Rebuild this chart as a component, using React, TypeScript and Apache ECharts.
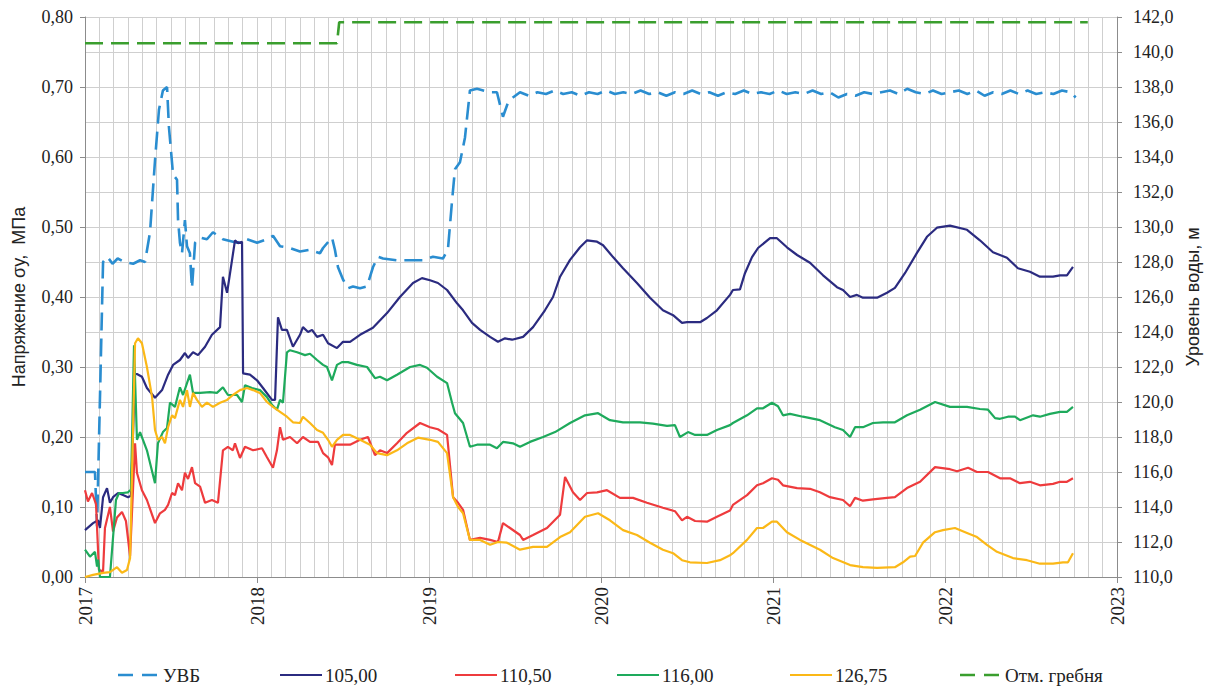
import React, { useEffect, useRef } from "react";
import * as echarts from "echarts";

const YEAR0 = 2017;
const X_TICKS = [2017, 2018, 2019, 2020, 2021, 2022, 2023];

// Offsets in years from 2017.0, values
const UVB: [number, number][] = [
  [0.0, 116.0], [0.058, 116.0], [0.07, 112.9], [0.105, 128.0], [0.13, 128.3], [0.16, 127.9],
  [0.19, 128.2], [0.23, 128.0], [0.28, 127.9], [0.32, 128.1], [0.349, 128.0], [0.378, 129.7],
  [0.407, 133.8], [0.43, 136.7], [0.453, 137.8], [0.477, 138.0], [0.488, 135.7], [0.512, 133.0],
  [0.535, 132.7], [0.541, 130.4], [0.552, 129.1], [0.564, 128.5], [0.581, 130.4], [0.593, 128.9],
  [0.61, 128.5], [0.622, 126.5], [0.64, 129.1], [0.669, 129.4], [0.709, 129.3], [0.744, 129.7],
  [0.802, 129.3], [0.884, 129.1], [0.942, 129.3], [1.0, 129.1], [1.058, 129.3], [1.093, 129.5],
  [1.134, 128.9], [1.192, 128.8], [1.25, 128.6], [1.308, 128.7], [1.366, 128.5], [1.384, 128.8],
  [1.436, 129.4], [1.453, 128.7], [1.471, 127.7], [1.5, 127.0], [1.529, 126.5], [1.558, 126.6],
  [1.599, 126.5], [1.64, 126.6], [1.674, 127.7], [1.703, 128.3], [1.733, 128.2], [1.814, 128.1],
  [1.89, 128.1], [1.965, 128.1], [2.023, 128.3], [2.081, 128.2], [2.11, 128.7], [2.134, 131.5],
  [2.151, 133.3], [2.18, 133.7], [2.209, 135.1], [2.238, 137.8], [2.279, 137.9], [2.355, 137.7],
  [2.395, 137.7], [2.43, 136.3], [2.459, 137.1], [2.488, 137.4], [2.529, 137.7], [2.58, 137.5],
  [2.63, 137.7], [2.68, 137.6], [2.73, 137.8], [2.78, 137.6], [2.83, 137.7], [2.88, 137.5],
  [2.93, 137.7], [2.98, 137.6], [3.03, 137.8], [3.08, 137.6], [3.13, 137.7], [3.18, 137.6],
  [3.23, 137.8], [3.28, 137.6], [3.33, 137.7], [3.38, 137.5], [3.43, 137.7], [3.48, 137.6],
  [3.53, 137.8], [3.58, 137.6], [3.63, 137.7], [3.68, 137.5], [3.73, 137.7], [3.78, 137.6],
  [3.83, 137.8], [3.88, 137.6], [3.93, 137.7], [3.98, 137.6], [4.03, 137.8], [4.08, 137.6],
  [4.13, 137.7], [4.18, 137.6], [4.23, 137.8], [4.28, 137.6], [4.33, 137.7], [4.38, 137.4],
  [4.43, 137.6], [4.48, 137.5], [4.53, 137.7], [4.58, 137.6], [4.63, 137.7], [4.68, 137.8],
  [4.73, 137.6], [4.78, 137.9], [4.83, 137.7], [4.88, 137.6], [4.93, 137.8], [4.98, 137.6],
  [5.03, 137.7], [5.08, 137.8], [5.13, 137.6], [5.18, 137.8], [5.23, 137.5], [5.28, 137.7],
  [5.33, 137.6], [5.38, 137.8], [5.43, 137.6], [5.48, 137.8], [5.53, 137.6], [5.58, 137.7],
  [5.63, 137.6], [5.68, 137.8], [5.73, 137.7], [5.76, 137.4],
];

const CREST: [number, number][] = [
  [0.0, 140.5], [1.465, 140.5], [1.478, 141.7], [5.83, 141.7],
];

const S105: [number, number][] = [
  [0.0, 0.067], [0.047, 0.077], [0.076, 0.081], [0.087, 0.07], [0.105, 0.114], [0.128, 0.127],
  [0.145, 0.106], [0.163, 0.114], [0.192, 0.12], [0.221, 0.117], [0.25, 0.114], [0.267, 0.116],
  [0.291, 0.29], [0.302, 0.29], [0.331, 0.286], [0.36, 0.27], [0.407, 0.256], [0.448, 0.267],
  [0.483, 0.289], [0.512, 0.303], [0.552, 0.31], [0.581, 0.32], [0.599, 0.313], [0.628, 0.321],
  [0.657, 0.317], [0.698, 0.329], [0.738, 0.346], [0.785, 0.357], [0.802, 0.429], [0.826, 0.406],
  [0.855, 0.453], [0.872, 0.481], [0.89, 0.477], [0.913, 0.479], [0.919, 0.291], [0.959, 0.289],
  [1.0, 0.281], [1.035, 0.27], [1.087, 0.253], [1.105, 0.253], [1.122, 0.371], [1.145, 0.353],
  [1.174, 0.353], [1.209, 0.329], [1.25, 0.346], [1.267, 0.357], [1.297, 0.35], [1.32, 0.353],
  [1.349, 0.343], [1.384, 0.346], [1.413, 0.334], [1.465, 0.327], [1.5, 0.336], [1.541, 0.336],
  [1.599, 0.346], [1.674, 0.356], [1.756, 0.377], [1.831, 0.4], [1.907, 0.42], [1.959, 0.427],
  [2.006, 0.424], [2.052, 0.42], [2.105, 0.41], [2.163, 0.391], [2.198, 0.381], [2.25, 0.363],
  [2.297, 0.353], [2.355, 0.343], [2.401, 0.336], [2.442, 0.341], [2.483, 0.339], [2.547, 0.343],
  [2.605, 0.357], [2.674, 0.381], [2.721, 0.4], [2.762, 0.429], [2.82, 0.453], [2.878, 0.471],
  [2.919, 0.481], [2.977, 0.479], [3.012, 0.474], [3.07, 0.457], [3.128, 0.441], [3.209, 0.42],
  [3.285, 0.399], [3.36, 0.381], [3.419, 0.374], [3.471, 0.363], [3.5, 0.364], [3.576, 0.364],
  [3.616, 0.37], [3.674, 0.381], [3.75, 0.403], [3.767, 0.41], [3.808, 0.411], [3.837, 0.434],
  [3.878, 0.457], [3.913, 0.47], [3.983, 0.484], [4.023, 0.484], [4.081, 0.471], [4.14, 0.46],
  [4.215, 0.449], [4.291, 0.431], [4.372, 0.414], [4.407, 0.41], [4.448, 0.4], [4.488, 0.403],
  [4.523, 0.399], [4.605, 0.399], [4.663, 0.406], [4.709, 0.413], [4.767, 0.434], [4.837, 0.463],
  [4.895, 0.486], [4.953, 0.499], [5.029, 0.502], [5.128, 0.496], [5.203, 0.481], [5.279, 0.464],
  [5.36, 0.456], [5.424, 0.441], [5.494, 0.436], [5.552, 0.429], [5.628, 0.429], [5.669, 0.431],
  [5.709, 0.431], [5.744, 0.443],
];

const S110: [number, number][] = [
  [0.0, 0.124], [0.017, 0.108], [0.041, 0.12], [0.064, 0.104], [0.081, 0.01], [0.105, 0.008],
  [0.116, 0.07], [0.145, 0.1], [0.163, 0.065], [0.186, 0.085], [0.215, 0.093], [0.238, 0.08],
  [0.262, 0.03], [0.291, 0.191], [0.302, 0.149], [0.331, 0.124], [0.36, 0.11], [0.407, 0.077],
  [0.436, 0.091], [0.465, 0.096], [0.483, 0.103], [0.506, 0.12], [0.523, 0.117], [0.541, 0.134],
  [0.564, 0.124], [0.581, 0.149], [0.599, 0.14], [0.622, 0.157], [0.64, 0.134], [0.669, 0.129],
  [0.698, 0.106], [0.738, 0.11], [0.773, 0.106], [0.802, 0.181], [0.831, 0.186], [0.86, 0.181],
  [0.872, 0.191], [0.901, 0.17], [0.93, 0.186], [0.977, 0.181], [1.029, 0.184], [1.058, 0.171],
  [1.093, 0.156], [1.116, 0.181], [1.134, 0.214], [1.151, 0.196], [1.192, 0.2], [1.233, 0.191],
  [1.267, 0.2], [1.308, 0.193], [1.355, 0.193], [1.384, 0.177], [1.413, 0.171], [1.436, 0.16],
  [1.453, 0.189], [1.5, 0.189], [1.541, 0.189], [1.599, 0.196], [1.645, 0.2], [1.686, 0.174],
  [1.715, 0.181], [1.756, 0.177], [1.814, 0.191], [1.872, 0.206], [1.948, 0.22], [2.006, 0.214],
  [2.052, 0.211], [2.105, 0.203], [2.14, 0.114], [2.169, 0.106], [2.198, 0.096], [2.238, 0.053],
  [2.297, 0.056], [2.355, 0.053], [2.401, 0.05], [2.43, 0.077], [2.471, 0.07], [2.529, 0.06],
  [2.547, 0.053], [2.605, 0.06], [2.686, 0.07], [2.762, 0.089], [2.791, 0.143], [2.837, 0.121],
  [2.878, 0.11], [2.919, 0.12], [2.977, 0.121], [3.035, 0.124], [3.11, 0.113], [3.186, 0.113],
  [3.267, 0.106], [3.36, 0.099], [3.43, 0.094], [3.471, 0.081], [3.5, 0.086], [3.547, 0.08],
  [3.616, 0.079], [3.674, 0.086], [3.75, 0.095], [3.767, 0.103], [3.849, 0.117], [3.907, 0.131],
  [3.942, 0.134], [3.994, 0.141], [4.029, 0.139], [4.058, 0.131], [4.14, 0.127], [4.215, 0.126],
  [4.273, 0.121], [4.331, 0.114], [4.407, 0.11], [4.448, 0.101], [4.477, 0.113], [4.523, 0.109],
  [4.581, 0.111], [4.663, 0.113], [4.709, 0.114], [4.779, 0.127], [4.855, 0.136], [4.942, 0.157],
  [5.029, 0.154], [5.07, 0.151], [5.134, 0.156], [5.186, 0.15], [5.25, 0.15], [5.32, 0.141],
  [5.378, 0.141], [5.436, 0.134], [5.494, 0.136], [5.552, 0.131], [5.628, 0.133], [5.669, 0.136],
  [5.709, 0.136], [5.744, 0.141],
];

const S116: [number, number][] = [
  [0.0, 0.039], [0.029, 0.029], [0.058, 0.036], [0.07, 0.015], [0.076, 0.025], [0.087, 0.0],
  [0.145, 0.0], [0.18, 0.11], [0.198, 0.12], [0.221, 0.12], [0.25, 0.121], [0.267, 0.125],
  [0.285, 0.331], [0.302, 0.196], [0.32, 0.207], [0.36, 0.181], [0.407, 0.134], [0.424, 0.191],
  [0.453, 0.207], [0.477, 0.213], [0.494, 0.249], [0.523, 0.243], [0.552, 0.271], [0.57, 0.26],
  [0.593, 0.277], [0.61, 0.289], [0.628, 0.263], [0.669, 0.263], [0.727, 0.264], [0.767, 0.263],
  [0.802, 0.271], [0.831, 0.26], [0.884, 0.26], [0.913, 0.25], [0.93, 0.274], [0.971, 0.27],
  [1.017, 0.267], [1.058, 0.257], [1.087, 0.246], [1.116, 0.239], [1.134, 0.253], [1.151, 0.249],
  [1.174, 0.321], [1.192, 0.324], [1.233, 0.321], [1.279, 0.317], [1.308, 0.319], [1.349, 0.31],
  [1.384, 0.303], [1.407, 0.3], [1.436, 0.281], [1.465, 0.303], [1.494, 0.307], [1.529, 0.307],
  [1.581, 0.303], [1.64, 0.3], [1.686, 0.284], [1.715, 0.286], [1.756, 0.281], [1.814, 0.289],
  [1.89, 0.3], [1.948, 0.303], [1.988, 0.299], [2.047, 0.286], [2.105, 0.277], [2.134, 0.249],
  [2.151, 0.234], [2.198, 0.22], [2.238, 0.186], [2.279, 0.189], [2.355, 0.189], [2.395, 0.184],
  [2.43, 0.193], [2.488, 0.191], [2.529, 0.186], [2.587, 0.193], [2.663, 0.2], [2.733, 0.207],
  [2.82, 0.22], [2.907, 0.231], [2.983, 0.234], [3.052, 0.224], [3.128, 0.221], [3.227, 0.221],
  [3.302, 0.219], [3.384, 0.216], [3.43, 0.217], [3.459, 0.2], [3.506, 0.207], [3.547, 0.203],
  [3.616, 0.203], [3.674, 0.21], [3.75, 0.217], [3.767, 0.22], [3.849, 0.231], [3.907, 0.241],
  [3.942, 0.241], [3.994, 0.249], [4.029, 0.244], [4.058, 0.231], [4.099, 0.233], [4.174, 0.229],
  [4.273, 0.224], [4.36, 0.214], [4.407, 0.21], [4.448, 0.2], [4.477, 0.214], [4.523, 0.214],
  [4.581, 0.22], [4.64, 0.221], [4.709, 0.221], [4.779, 0.231], [4.855, 0.239], [4.942, 0.25],
  [5.029, 0.243], [5.128, 0.243], [5.203, 0.24], [5.25, 0.239], [5.291, 0.227], [5.32, 0.226],
  [5.366, 0.229], [5.407, 0.229], [5.436, 0.224], [5.512, 0.231], [5.552, 0.229], [5.61, 0.233],
  [5.669, 0.236], [5.709, 0.236], [5.744, 0.243],
];

const S126: [number, number][] = [
  [0.0, 0.0], [0.047, 0.003], [0.105, 0.006], [0.145, 0.007], [0.186, 0.014], [0.215, 0.006],
  [0.244, 0.01], [0.262, 0.027], [0.291, 0.334], [0.308, 0.341], [0.331, 0.334], [0.36, 0.3],
  [0.39, 0.257], [0.407, 0.21], [0.424, 0.196], [0.448, 0.2], [0.465, 0.191], [0.483, 0.214],
  [0.506, 0.231], [0.523, 0.227], [0.552, 0.253], [0.57, 0.243], [0.593, 0.267], [0.61, 0.243],
  [0.628, 0.263], [0.651, 0.253], [0.68, 0.243], [0.709, 0.249], [0.744, 0.243], [0.785, 0.249],
  [0.826, 0.253], [0.86, 0.26], [0.901, 0.267], [0.942, 0.27], [0.977, 0.267], [1.017, 0.263],
  [1.058, 0.25], [1.093, 0.243], [1.134, 0.236], [1.174, 0.229], [1.209, 0.221], [1.25, 0.22],
  [1.267, 0.229], [1.308, 0.22], [1.349, 0.21], [1.384, 0.206], [1.413, 0.196], [1.436, 0.186],
  [1.465, 0.196], [1.5, 0.203], [1.541, 0.203], [1.599, 0.196], [1.657, 0.189], [1.698, 0.177],
  [1.756, 0.174], [1.814, 0.181], [1.872, 0.191], [1.936, 0.199], [2.006, 0.196], [2.052, 0.193],
  [2.105, 0.177], [2.14, 0.114], [2.169, 0.1], [2.198, 0.091], [2.238, 0.053], [2.297, 0.053],
  [2.355, 0.046], [2.401, 0.05], [2.453, 0.049], [2.529, 0.039], [2.605, 0.043], [2.686, 0.043],
  [2.762, 0.057], [2.82, 0.064], [2.907, 0.086], [2.983, 0.091], [3.052, 0.081], [3.128, 0.067],
  [3.209, 0.06], [3.285, 0.049], [3.36, 0.039], [3.419, 0.034], [3.471, 0.024], [3.517, 0.021],
  [3.616, 0.02], [3.692, 0.024], [3.75, 0.031], [3.767, 0.034], [3.849, 0.053], [3.907, 0.07],
  [3.942, 0.07], [3.994, 0.079], [4.023, 0.079], [4.081, 0.064], [4.157, 0.053], [4.273, 0.039],
  [4.349, 0.027], [4.448, 0.017], [4.523, 0.014], [4.605, 0.013], [4.709, 0.014], [4.756, 0.021],
  [4.797, 0.029], [4.826, 0.03], [4.872, 0.049], [4.942, 0.064], [4.988, 0.067], [5.058, 0.07],
  [5.128, 0.063], [5.186, 0.057], [5.244, 0.046], [5.302, 0.036], [5.395, 0.027], [5.477, 0.024],
  [5.552, 0.019], [5.628, 0.019], [5.686, 0.021], [5.715, 0.021], [5.744, 0.034],
];

const NAMES = ["УВБ", "105,00", "110,50", "116,00", "126,75", "Отм. гребня"];
const COLORS = ["#2a8dd0", "#2b2b80", "#ee3b3d", "#1eaa5c", "#fbb817", "#3a9e2e"];
const DASHED = [true, false, false, false, false, true];

const SERIF = "'Liberation Serif', 'DejaVu Serif', serif";
const SANS = "'Liberation Sans', Arial, sans-serif";

// legend layout (pixel positions of each entry's icon start)
const LEGEND_X = [118, 280, 455, 617, 790, 960];
const LEGEND_Y = 675;

const toXY = (arr: [number, number][]) => arr.map(([t, v]) => [YEAR0 + t, v]);

export default function App() {
  const ref = useRef<HTMLDivElement>(null);
  useEffect(() => {
    document.body.style.margin = "0";
    const chart = echarts.init(ref.current!, null, { renderer: "svg" });
    const lineSeries = (i: number, data: [number, number][], yAxisIndex: number, width: number) => ({
      name: NAMES[i],
      type: "line",
      yAxisIndex,
      data: toXY(data),
      showSymbol: false,
      symbol: "none",
      color: COLORS[i],
      lineStyle: { color: COLORS[i], width, type: DASHED[i] ? [18, 8] : "solid" },
      z: 3,
    });
    const legendGraphics: any[] = [];
    NAMES.forEach((name, i) => {
      const x0 = LEGEND_X[i];
      legendGraphics.push({
        type: "line",
        shape: { x1: x0, y1: LEGEND_Y, x2: x0 + 42, y2: LEGEND_Y },
        style: {
          stroke: COLORS[i],
          lineWidth: DASHED[i] ? 2.6 : 2.2,
          lineDash: DASHED[i] ? [15, 9] : null,
        },
        silent: true,
      });
      legendGraphics.push({
        type: "text",
        x: x0 + 45,
        y: LEGEND_Y,
        style: {
          text: name,
          fill: "#222",
          fontFamily: SERIF,
          fontSize: 19,
          verticalAlign: "middle",
          align: "left",
        },
        silent: true,
      });
    });
    chart.setOption({
      animation: false,
      backgroundColor: "#ffffff",
      grid: { left: 85, right: 89, top: 17, bottom: 111, containLabel: false, outerBoundsMode: "none" },
      graphic: legendGraphics,
      xAxis: {
        type: "value",
        min: 2017,
        max: 2023,
        interval: 1,
        axisLine: { show: true, lineStyle: { color: "#8c8c8c", width: 1 } },
        axisTick: { show: true, length: 6, lineStyle: { color: "#8c8c8c" } },
        axisLabel: {
          rotate: 90,
          margin: 10,
          fontFamily: SERIF,
          fontSize: 19,
          color: "#222",
          formatter: (v: number) => (X_TICKS.includes(v) ? String(v) : ""),
        },
        splitLine: { show: true, lineStyle: { color: "#cfcfcf", width: 1 } },
        minorTick: { show: false, splitNumber: 12 },
        minorSplitLine: { show: true, lineStyle: { color: "#cfcfcf", width: 1 } },
      },
      yAxis: [
        {
          type: "value",
          min: 0,
          max: 0.8,
          interval: 0.1,
          position: "left",
          name: "Напряжение σу,  МПа",
          nameLocation: "middle",
          nameRotate: 90,
          nameGap: 57,
          nameTextStyle: { fontFamily: SANS, fontSize: 18, color: "#222" },
          axisLine: { show: true, lineStyle: { color: "#8c8c8c", width: 1 } },
          axisTick: { show: true, length: 5, lineStyle: { color: "#8c8c8c" } },
          axisLabel: {
            margin: 12,
            fontFamily: SERIF,
            fontSize: 18,
            color: "#222",
            formatter: (v: number) => v.toFixed(2).replace(".", ","),
          },
          splitLine: { show: false },
        },
        {
          type: "value",
          min: 110,
          max: 142,
          interval: 2,
          position: "right",
          name: "Уровень воды, м",
          nameLocation: "middle",
          nameRotate: 90,
          nameGap: 64,
          nameTextStyle: { fontFamily: SANS, fontSize: 18, color: "#222" },
          axisLine: { show: true, lineStyle: { color: "#8c8c8c", width: 1 } },
          axisTick: { show: true, length: 5, lineStyle: { color: "#8c8c8c" } },
          axisLabel: {
            margin: 16,
            fontFamily: SERIF,
            fontSize: 18,
            color: "#222",
            formatter: (v: number) => v.toFixed(1).replace(".", ","),
          },
          splitLine: { show: true, lineStyle: { color: "#cfcfcf", width: 1 } },
        },
      ],
      series: [
        lineSeries(0, UVB, 1, 2.6),
        lineSeries(1, S105, 0, 2.2),
        lineSeries(2, S110, 0, 2.2),
        lineSeries(3, S116, 0, 2.2),
        lineSeries(4, S126, 0, 2.2),
        lineSeries(5, CREST, 1, 2.6),
      ],
    });
    return () => chart.dispose();
  }, []);
  return <div ref={ref} style={{ width: 1206, height: 688, background: "#fff" }} />;
}
